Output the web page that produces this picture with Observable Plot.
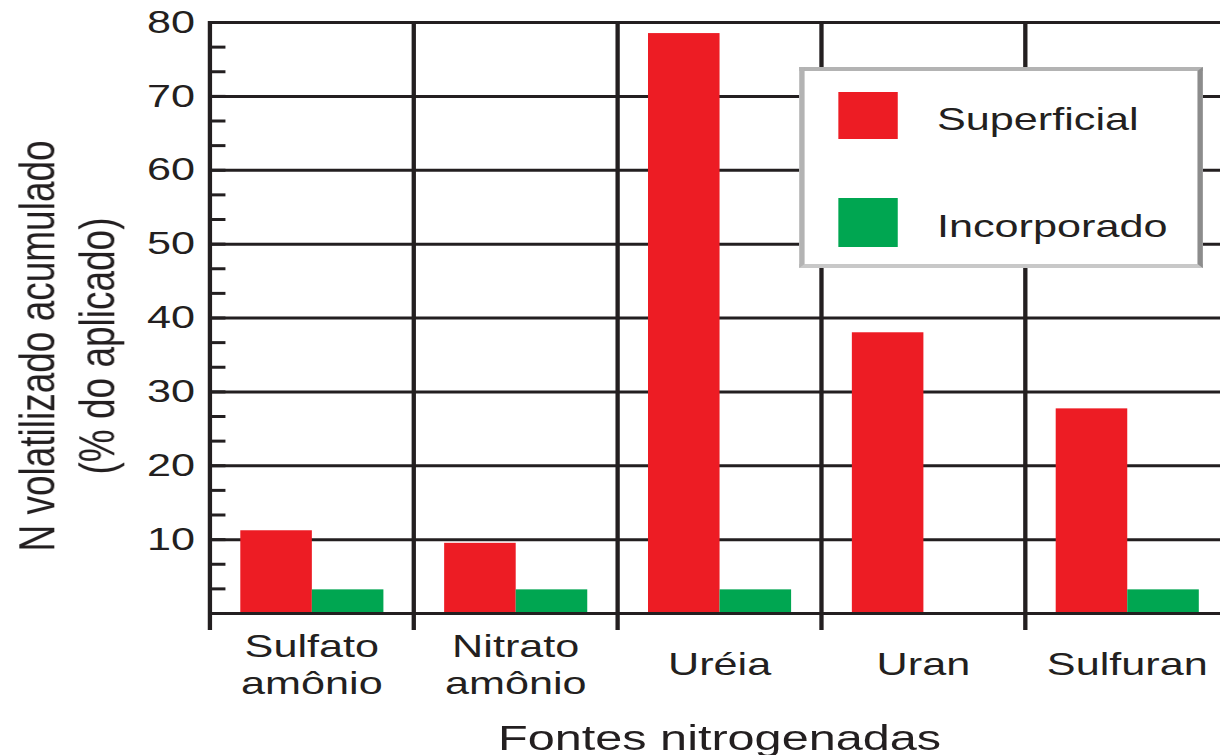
<!DOCTYPE html>
<html>
<head>
<meta charset="utf-8">
<script src="https://cdn.jsdelivr.net/npm/d3@7"></script>
<script src="https://cdn.jsdelivr.net/npm/@observablehq/plot@0.6"></script>
<style>
  html, body { margin: 0; padding: 0; background: #fff; overflow: hidden; }
  /* the whole figure is drawn with a wide horizontal aspect */
  #figure {
    position: relative; width: 912px; height: 755px;
    transform: scaleX(1.35); transform-origin: 0 0;
    font-family: "Liberation Sans", Arial, sans-serif; color: #231F20;
  }
  #legend {
    position: absolute; left: 592px; top: 67px; width: 299px; height: 201px;
    box-sizing: border-box; background: #fff;
    border: 4px solid #b3b3b3; border-right-color: #8c8c8c; border-bottom-color: #c8c8c8;
  }
  #legend .sw { position: absolute; left: 25px; width: 44px; }
  #legend .lb { position: absolute; left: 98px; font-size: 32px; line-height: 32px; white-space: nowrap; }
</style>
</head>
<body>
<div id="figure"></div>
<script>
// Fontes nitrogenadas e N volatilizado acumulado (% do aplicado)
const fontes = ["Sulfato amônio", "Nitrato amônio", "Uréia", "Uran", "Sulfuran"];
const rotulos = ["Sulfato\namônio", "Nitrato\namônio", "Uréia", "Uran", "Sulfuran"];
const series = ["Superficial", "Incorporado"];
const superficial = [11.2, 9.5, 78.5, 38, 27.7];
const incorporado = [3.2, 3.2, 3.2, 0, 3.2];
const cores = ["#ED1C24", "#00A651"];
const yRotulos = [10, 20, 30, 40, 50, 60, 70, 80];
const yGrade = [0, 10, 20, 30, 40, 50, 60, 70, 80];
const tituloY = "N volatilizado acumulado\n(% do aplicado)";
const tituloX = "Fontes nitrogenadas";

const ink = "#231F20";
const minorTicks = d3.range(0, 80.001, 10 / 3);

const valores = [superficial, incorporado];
const tabela = fontes.flatMap((fonte, i) =>
  series.map((serie, s) => ({fonte, serie, valor: valores[s][i]}))
);

const chart = Plot.plot({
  width: 912,
  height: 755,
  marginLeft: 155,
  marginRight: 2,
  marginTop: 22,
  marginBottom: 142,
  style: {fontFamily: "'Liberation Sans', Arial, sans-serif", fontSize: "32px", color: ink, background: "#fff", overflow: "visible"},
  fx: {domain: fontes, padding: 0, axis: null},
  x: {domain: series, paddingInner: 0, paddingOuter: 0.42, axis: null},
  y: {domain: [0, 80], axis: null},
  color: {domain: series, range: cores},
  marks: [
    Plot.gridY(yGrade, {stroke: ink, strokeOpacity: 1, strokeWidth: 3}),
    Plot.frame({anchor: "left", stroke: ink, strokeWidth: 3.2, insetBottom: -15}),
    Plot.barY(tabela, {fx: "fonte", x: "serie", y: "valor", fill: "serie"}),
    Plot.ruleY([0], {stroke: ink, strokeWidth: 3}),
    Plot.axisY({ticks: minorTicks, tickSize: -12, tickFormat: () => "", label: null, stroke: ink, strokeWidth: 3}),
    Plot.axisY({ticks: yRotulos, tickSize: 0, tickPadding: 11, label: null, fontSize: 32, fill: ink}),
    Plot.text(fontes, {fx: d => d, text: (d, i) => rotulos[i], frameAnchor: "bottom", lineAnchor: "middle", dy: 50, lineHeight: 1.15, fontSize: 32, fill: ink}),
    Plot.text([tituloY], {fx: () => fontes[0], frameAnchor: "left", textAnchor: "middle", rotate: -90, dx: -107, dy: 28, lineAnchor: "middle", lineHeight: 1.2, fontSize: 37, fill: ink}),
    Plot.text([tituloX], {facet: "super", frameAnchor: "bottom", dy: 136, fontSize: 36, fill: ink})
  ]
});

const figure = document.getElementById("figure");
figure.appendChild(chart);

// legend box
const legend = document.createElement("div");
legend.id = "legend";
const legendRows = [{top: 21, height: 47, textTop: 32}, {top: 127, height: 49, textTop: 139}];
series.forEach((nome, i) => {
  const sw = document.createElement("div");
  sw.className = "sw";
  sw.style.top = legendRows[i].top + "px";
  sw.style.height = legendRows[i].height + "px";
  sw.style.background = cores[i];
  const lb = document.createElement("div");
  lb.className = "lb";
  lb.style.top = legendRows[i].textTop + "px";
  lb.textContent = nome;
  legend.appendChild(sw);
  legend.appendChild(lb);
});
figure.appendChild(legend);
</script>
</body>
</html>
